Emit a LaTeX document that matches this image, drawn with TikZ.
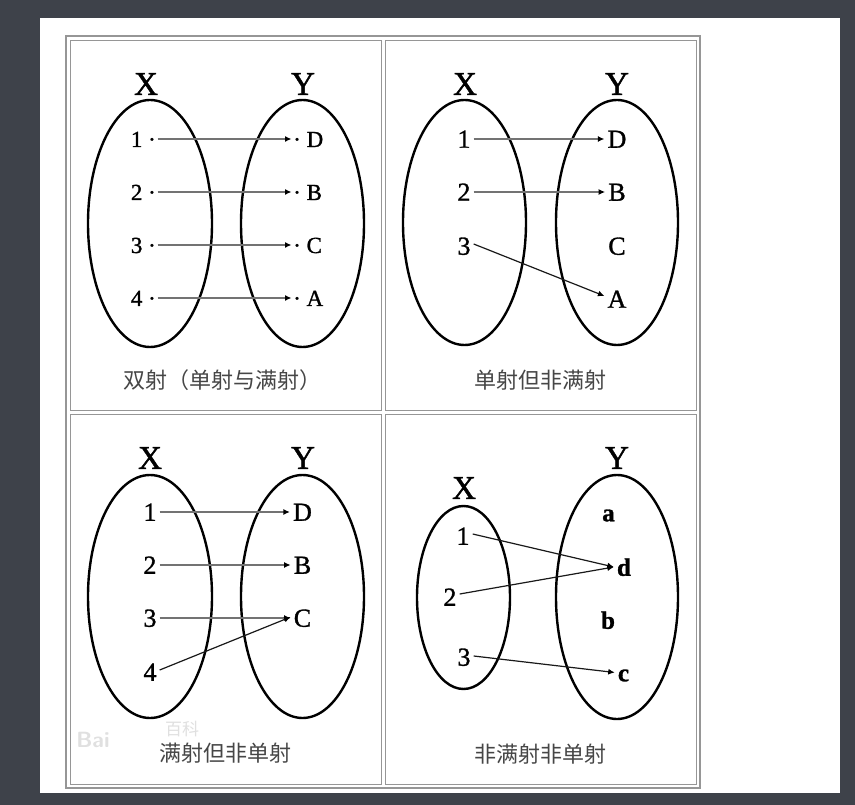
\documentclass[tikz,border=0pt]{standalone}
\usepackage{fontspec}
\setmainfont{Liberation Serif}[FakeBold=1.2]
\newfontfamily\cjk{Noto Sans CJK SC}
\usetikzlibrary{arrows.meta}
\definecolor{bgdark}{RGB}{62,66,74}
\definecolor{rulegray}{RGB}{150,150,150}
\definecolor{captxt}{RGB}{70,70,70}
\begin{document}
\begin{tikzpicture}[x=1pt,y=-1pt,
  setname/.style={inner sep=0pt, font=\fontsize{33}{35}\selectfont},
  elt/.style={inner sep=3pt, text height=17.5pt, text depth=0pt, font=\fontsize{26}{28}\selectfont},
  eltsmall/.style={inner sep=1.5pt, text height=16pt, text depth=0pt, font=\fontsize{23}{25}\selectfont},
  boldelt/.style={elt, font=\fontsize{25}{27}\selectfont\bfseries},
  setshape/.style={draw=black, line width=2.4pt},
  harrow/.style={draw=black!55, line width=2pt, -{Latex[black,length=6.5pt,width=6pt]}},
  darrow/.style={draw=black!90, line width=1.2pt, -{Latex[black,length=6.5pt,width=6pt]}},
  cellbox/.style={draw=rulegray, line width=1pt},
  captext/.style={font=\cjk\fontsize{22}{24}\selectfont, text=captxt, inner sep=0pt},
  wmark/.style={text=black!12, inner sep=0pt},
]
\useasboundingbox (0,0) rectangle (855,805);
\fill[bgdark] (0,0) rectangle (855,805);
\fill[white] (40,18) rectangle (840,793);
\draw[rulegray, line width=1.5pt] (66,36) rectangle (700,788);
\draw[cellbox] (70,41) rectangle (381,410);
\draw[cellbox] (385,41) rectangle (696,410);
\draw[cellbox] (70,414) rectangle (381,784);
\draw[cellbox] (385,414) rectangle (696,784);

% ---------- panel 1 ----------
\node[setname] (p1X) at (146,84) {X};
\node[setname] (p1Y) at (303,84) {Y};
\draw[setshape] (150,223.5) ellipse [x radius=62, y radius=123.5];
\draw[setshape] (302.5,223.5) ellipse [x radius=61.5, y radius=123.5];
\foreach \i/\l/\yy in {1/D/139, 2/B/192, 3/C/245, 4/A/298} {
  \node[eltsmall, anchor=east] (p1a\i) at (157.5,\yy) {\i~·};
  \node[eltsmall, anchor=west] (p1b\i) at (291.5,\yy) {·~\l};
  \draw[harrow] (p1a\i) -- (p1b\i);
}
\node[captext] (c1) at (222.5,380) {双射（单射与满射）};

% ---------- panel 2 ----------
\node[setname] (p2X) at (465,84) {X};
\node[setname] (p2Y) at (617,84) {Y};
\draw[setshape] (464.5,222.5) ellipse [x radius=61.5, y radius=122.5];
\draw[setshape] (617,222.5) ellipse [x radius=61, y radius=122.5];
\node[elt] (p2a1) at (464,139) {1};
\node[elt] (p2a2) at (464,192) {2};
\node[elt] (p2a3) at (464,246) {3};
\node[elt] (p2b1) at (617,139) {D};
\node[elt] (p2b2) at (617,192) {B};
\node[elt] (p2b3) at (617,246) {C};
\node[elt] (p2b4) at (617,299) {A};
\draw[harrow] (p2a1) -- (p2b1);
\draw[harrow] (p2a2) -- (p2b2);
\draw[darrow] ([yshift=2pt]p2a3.east) -- ([yshift=3pt]p2b4.west);
\node[captext] (c2) at (540.5,380) {单射但非满射};

% ---------- panel 3 ----------
\node[setname] (p3X) at (150,458) {X};
\node[setname] (p3Y) at (303,458) {Y};
\draw[setshape] (150,596.5) ellipse [x radius=62, y radius=121.5];
\draw[setshape] (302.5,596.5) ellipse [x radius=61.5, y radius=121.5];
\node[elt] (p3a1) at (150,512) {1};
\node[elt] (p3a2) at (150,565) {2};
\node[elt] (p3a3) at (150,618) {3};
\node[elt] (p3a4) at (150,672) {4};
\node[elt] (p3b1) at (302.5,512) {D};
\node[elt] (p3b2) at (302.5,565) {B};
\node[elt] (p3b3) at (302.5,618) {C};
\draw[harrow] (p3a1) -- (p3b1);
\draw[harrow] (p3a2) -- (p3b2);
\draw[harrow] (p3a3) -- (p3b3);
\draw[darrow] ([yshift=2pt]p3a4.east) -- ([yshift=1pt]p3b3.west);
\node[wmark, font=\sffamily\bfseries\fontsize{22}{24}\selectfont] (wm1) at (93,740) {Bai};
\node[wmark, font=\cjk\fontsize{17}{19}\selectfont] (wm2) at (182,729) {百科};
\node[captext] (c3) at (225,753) {满射但非单射};

% ---------- panel 4 ----------
\node[setname] (p4X) at (464,488) {X};
\node[setname] (p4Y) at (617,458) {Y};
\draw[setshape] (463.5,597.5) ellipse [x radius=46.5, y radius=91.5];
\draw[setshape] (617,597) ellipse [x radius=61, y radius=122];
\node[elt] (p4a1) at (463,536) {1};
\node[elt] (p4a2) at (450,597) {2};
\node[elt] (p4a3) at (464,657) {3};
\node[boldelt] (p4ba) at (608.5,512.5) {a};
\node[boldelt] (p4bd) at (624,567) {d};
\node[boldelt] (p4bb) at (608,620) {b};
\node[boldelt] (p4bc) at (623.5,672.5) {c};
\draw[darrow] ([yshift=2pt]p4a1.east) -- (p4bd.west);
\draw[darrow] ([yshift=3pt]p4a2.east) -- (p4bd.west);
\draw[darrow] ([yshift=1pt]p4a3.east) -- (p4bc.west);
\node[captext] (c4) at (540.5,754) {非满射非单射};
\end{tikzpicture}
\end{document}
